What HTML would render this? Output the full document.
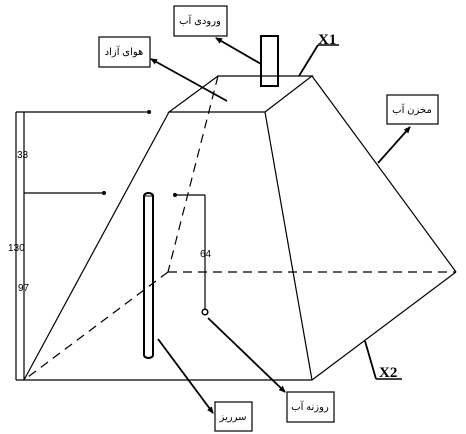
<!DOCTYPE html>
<html><head><meta charset="utf-8"><style>
html,body{margin:0;padding:0;background:#fff;}
svg{display:block;}
text{font-family:"Liberation Sans","DejaVu Sans",sans-serif;}
</style></head><body>
<svg width="466" height="434" viewBox="0 0 466 434" xmlns="http://www.w3.org/2000/svg">
<defs><marker id="a" markerWidth="8" markerHeight="8" refX="6" refY="4" orient="auto" markerUnits="userSpaceOnUse"><path d="M0,1 L7,4 L0,7 z" fill="#000"/></marker></defs>
<g stroke="#000" fill="none" stroke-width="1.2">
<polygon points="218,76 312,76 265,112 169,112"/>
<line x1="312" y1="76" x2="456" y2="272"/>
<line x1="265" y1="112" x2="312" y2="380"/>
<line x1="169" y1="112" x2="24" y2="380"/>
<line x1="16" y1="380" x2="312" y2="380"/>
<line x1="312" y1="380" x2="456" y2="272"/>
<g stroke-dasharray="9,6">
<line x1="218" y1="76" x2="168" y2="272"/>
<line x1="168" y1="272" x2="456" y2="272"/>
<line x1="168" y1="272" x2="24" y2="380"/>
</g>
<line x1="16" y1="112" x2="16" y2="380"/>
<line x1="24" y1="112" x2="24" y2="380"/>
<line x1="16" y1="112" x2="147" y2="112"/>
<line x1="24" y1="193" x2="102" y2="193"/>
<rect x="144" y="193" width="9" height="165" rx="4.5" ry="3" stroke-width="2"/>
<line x1="144" y1="196" x2="153" y2="196" stroke-width="1"/>
<line x1="175" y1="195" x2="205" y2="195"/>
<line x1="205" y1="195" x2="205" y2="309"/>
<circle cx="205" cy="312" r="2.8" stroke-width="1.5"/>
<rect x="261" y="36" width="17" height="50" stroke-width="2"/>
<rect x="174" y="6" width="53" height="30"/>
<rect x="99" y="37" width="51" height="30"/>
<rect x="387" y="95" width="51" height="29"/>
<rect x="215" y="402" width="37" height="29"/>
<rect x="287" y="392" width="47" height="30"/>
<g stroke-width="1.8" marker-end="url(#a)">
<line x1="261" y1="64" x2="216" y2="38"/>
<line x1="227" y1="101" x2="151" y2="59"/>
<line x1="378" y1="163" x2="410" y2="127"/>
<line x1="158" y1="339" x2="213" y2="413"/>
<line x1="208" y1="318" x2="285" y2="392"/>
</g>
<line x1="299" y1="76" x2="318" y2="45" stroke-width="1.8"/>
<line x1="318" y1="45" x2="339" y2="45" stroke-width="1.5"/>
<line x1="365" y1="341" x2="376" y2="379" stroke-width="1.8"/>
<line x1="376" y1="379" x2="402" y2="379" stroke-width="1.5"/>
</g>
<g fill="#000">
<circle cx="149" cy="112" r="2"/>
<circle cx="104" cy="193" r="2"/>
<circle cx="175" cy="195" r="2"/>
</g>
<g font-size="10" fill="#000">
<text x="17" y="158">33</text>
<text x="8" y="251">130</text>
<text x="18" y="291">97</text>
<text x="200" y="257">64</text>
</g>
<g font-weight="bold" font-size="15" fill="#000">
<text x="318" y="44" style="font-family:'Liberation Serif',serif">X1</text>
<text x="379" y="377" style="font-family:'Liberation Serif',serif">X2</text>
</g>
<g font-size="10" fill="#000" text-anchor="middle" direction="rtl">
<text x="200" y="24">ورودی آب</text>
<text x="124" y="55">هوای آزاد</text>
<text x="412" y="113">مخزن آب</text>
<text x="233" y="420">سرریز</text>
<text x="310" y="410">روزنه آب</text>
</g>
</svg>
</body></html>
